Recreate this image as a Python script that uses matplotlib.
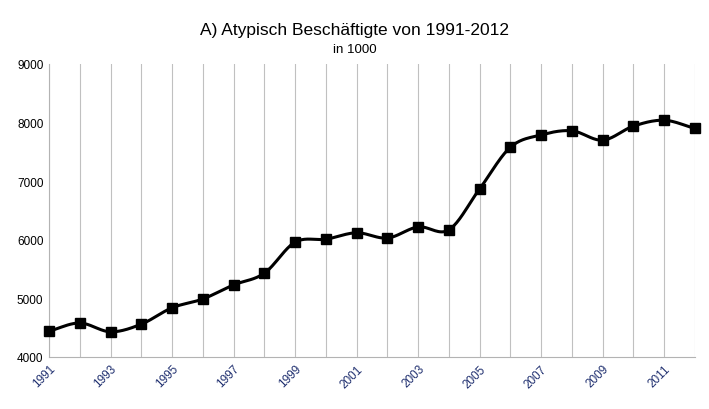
import numpy as np
import matplotlib
matplotlib.use("Agg")
import matplotlib.pyplot as plt

years = list(range(1991, 2013))
values = [4440, 4580, 4430, 4560, 4840, 4990, 5230, 5430, 5960, 6010, 6120,
          6030, 6220, 6170, 6870, 7580, 7790, 7860, 7700, 7940, 8040, 7900]
tick_years = list(range(1991, 2013, 2))


def catmull_rom(x, y, n=20):
    # smooth curve through the points (like the spreadsheet's smoothed line)
    x = np.asarray(x, float); y = np.asarray(y, float)
    px = np.concatenate([[2 * x[0] - x[1]], x, [2 * x[-1] - x[-2]]])
    py = np.concatenate([[2 * y[0] - y[1]], y, [2 * y[-1] - y[-2]]])
    xs, ys = [], []
    t = np.linspace(0, 1, n, endpoint=False)
    for i in range(1, len(px) - 2):
        for p, out in ((px, xs), (py, ys)):
            p0, p1, p2, p3 = p[i - 1], p[i], p[i + 1], p[i + 2]
            out.extend(0.5 * (2 * p1 + (-p0 + p2) * t + (2 * p0 - 5 * p1 + 4 * p2 - p3) * t ** 2
                              + (-p0 + 3 * p1 - 3 * p2 + p3) * t ** 3))
    xs.append(x[-1]); ys.append(y[-1])
    return np.array(xs), np.array(ys)


fig = plt.figure(figsize=(7.09, 4.10), dpi=100)
ax = fig.add_axes([49 / 709, 1 - 358 / 410, 646 / 709, 293 / 410])

sx, sy = catmull_rom(years, values)
ax.plot(sx, sy, color="black", lw=2.2, zorder=3, clip_on=False)
ax.plot(years, values, "s", color="black", ms=7.5, zorder=4, clip_on=False)

ax.set_xlim(1991, 2012)
ax.set_ylim(4000, 9000)
ax.set_xticks(years)
ax.set_xticklabels([str(y) if y in tick_years else "" for y in years],
                   rotation=45, ha="right", rotation_mode="anchor",
                   fontsize=8.5, color="#1f2f6f", family="Liberation Sans")
ax.set_yticks(range(4000, 9001, 1000))
ax.set_yticklabels([str(v) for v in range(4000, 9001, 1000)],
                   fontsize=8.5, family="Liberation Sans")
ax.tick_params(axis="both", length=0, pad=4)
ax.grid(axis="x", color="#c0c0c0", lw=0.8)
for s in ("top", "right"):
    ax.spines[s].set_visible(False)
for s in ("left", "bottom"):
    ax.spines[s].set_color("#b3b3b3")

fig.text(0.5, 1 - 30 / 410, "A) Atypisch Beschäftigte von 1991-2012", ha="center",
         va="center", fontsize=12.5, family="Liberation Sans")
fig.text(0.5, 1 - 50 / 410, "in 1000", ha="center", va="center",
         fontsize=9.5, family="Liberation Sans")

fig.savefig("out.png", dpi=100)
